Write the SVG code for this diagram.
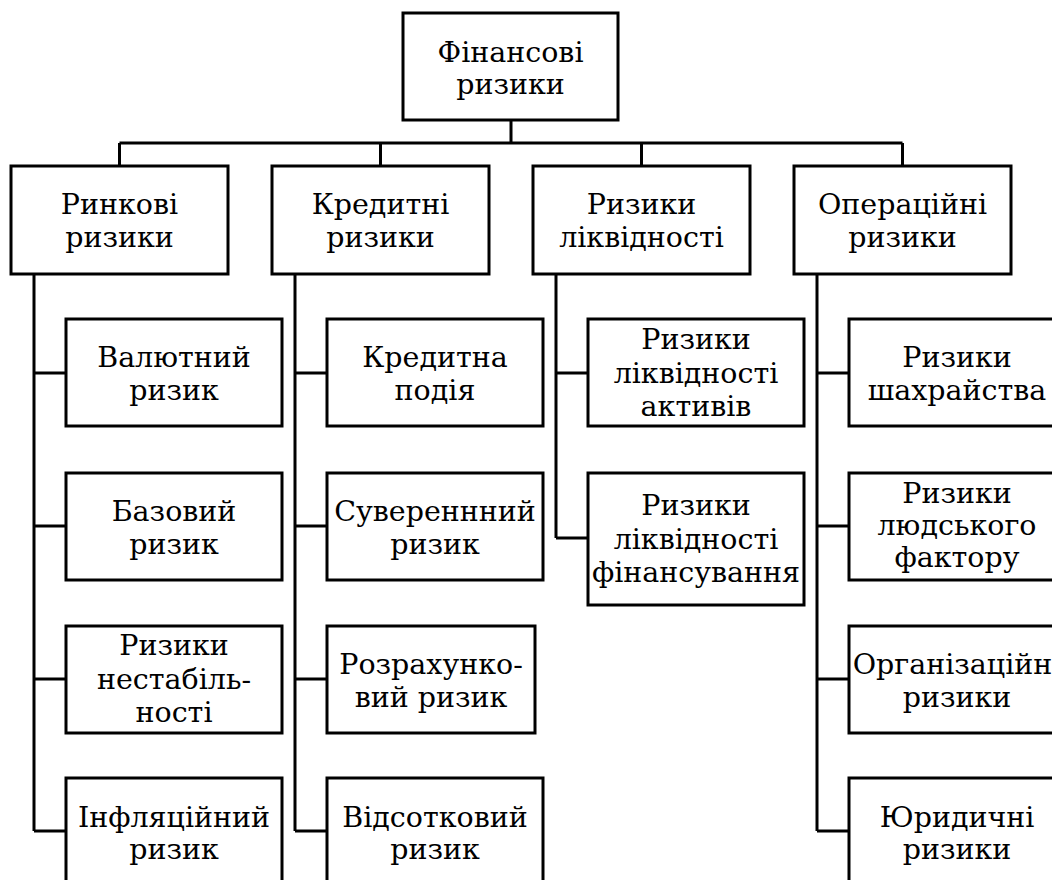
<svg xmlns="http://www.w3.org/2000/svg" width="1052" height="880" viewBox="0 0 1052 880">
<style>
.box{fill:#fff;stroke:#000;stroke-width:3}
.ln{fill:none;stroke:#000;stroke-width:3}
text{font-family:"DejaVu Serif","Liberation Serif",serif;font-size:28.5px;fill:#000;text-anchor:middle}
</style>
<rect width="1052" height="880" fill="#fff"/>
<g id="connectors" class="ln">
<path d="M511,120V143M119.5,143H902.5M119.5,143V166M380.5,143V166M641.5,143V166M902.5,143V166"/>
<path d="M34,274V831M34,373H66M34,526H66M34,679H66M34,831H66"/>
<path d="M295,274V831M295,373H327M295,526H327M295,679H327M295,831H327"/>
<path d="M556,274V538M556,373H588M556,538H588"/>
<path d="M817,274V831M817,373H849M817,526H849M817,679H849M817,831H849"/>
</g>
<g id="n0"><rect class="box" x="403" y="13" width="215" height="107"/><text x="510.5" y="62">Фінансові</text><text x="510.5" y="94">ризики</text></g>
<g id="n1"><rect class="box" x="11" y="166" width="217" height="108"/><text x="119.5" y="214">Ринкові</text><text x="119.5" y="247">ризики</text></g>
<g id="n2"><rect class="box" x="272" y="166" width="217" height="108"/><text x="380.5" y="214">Кредитні</text><text x="380.5" y="247">ризики</text></g>
<g id="n3"><rect class="box" x="533" y="166" width="217" height="108"/><text x="641.5" y="214">Ризики</text><text x="641.5" y="247">ліквідності</text></g>
<g id="n4"><rect class="box" x="794" y="166" width="217" height="108"/><text x="902.5" y="214">Операційні</text><text x="902.5" y="247">ризики</text></g>
<g id="n1a"><rect class="box" x="66" y="319" width="216" height="107"/><text x="174" y="367">Валютний</text><text x="174" y="400">ризик</text></g>
<g id="n1b"><rect class="box" x="66" y="473" width="216" height="107"/><text x="174" y="521">Базовий</text><text x="174" y="554">ризик</text></g>
<g id="n1c"><rect class="box" x="66" y="626" width="216" height="107"/><text x="174" y="655">Ризики</text><text x="174" y="689">нестабіль-</text><text x="174" y="722">ності</text></g>
<g id="n1d"><rect class="box" x="66" y="778" width="216" height="107"/><text x="174" y="827">Інфляційний</text><text x="174" y="859">ризик</text></g>
<g id="n2a"><rect class="box" x="327" y="319" width="216" height="107"/><text x="435" y="367">Кредитна</text><text x="435" y="400">подія</text></g>
<g id="n2b"><rect class="box" x="327" y="473" width="216" height="107"/><text x="435" y="521">Сувереннний</text><text x="435" y="554">ризик</text></g>
<g id="n2c"><rect class="box" x="327" y="626" width="208" height="107"/><text x="431" y="674">Розрахунко-</text><text x="431" y="707">вий ризик</text></g>
<g id="n2d"><rect class="box" x="327" y="778" width="216" height="107"/><text x="435" y="827">Відсотковий</text><text x="435" y="859">ризик</text></g>
<g id="n3a"><rect class="box" x="588" y="319" width="216" height="107"/><text x="696" y="349">Ризики</text><text x="696" y="383">ліквідності</text><text x="696" y="416">активів</text></g>
<g id="n3b"><rect class="box" x="588" y="473" width="216" height="132"/><text x="696" y="515">Ризики</text><text x="696" y="549">ліквідності</text><text x="696" y="582">фінансування</text></g>
<g id="n4a"><rect class="box" x="849" y="319" width="216" height="107"/><text x="957" y="367">Ризики</text><text x="957" y="400">шахрайства</text></g>
<g id="n4b"><rect class="box" x="849" y="473" width="216" height="107"/><text x="957" y="503">Ризики</text><text x="957" y="535">людського</text><text x="957" y="567">фактору</text></g>
<g id="n4c"><rect class="box" x="849" y="626" width="216" height="107"/><text x="957" y="674">Організаційні</text><text x="957" y="707">ризики</text></g>
<g id="n4d"><rect class="box" x="849" y="778" width="216" height="107"/><text x="957" y="827">Юридичні</text><text x="957" y="859">ризики</text></g>
</svg>
